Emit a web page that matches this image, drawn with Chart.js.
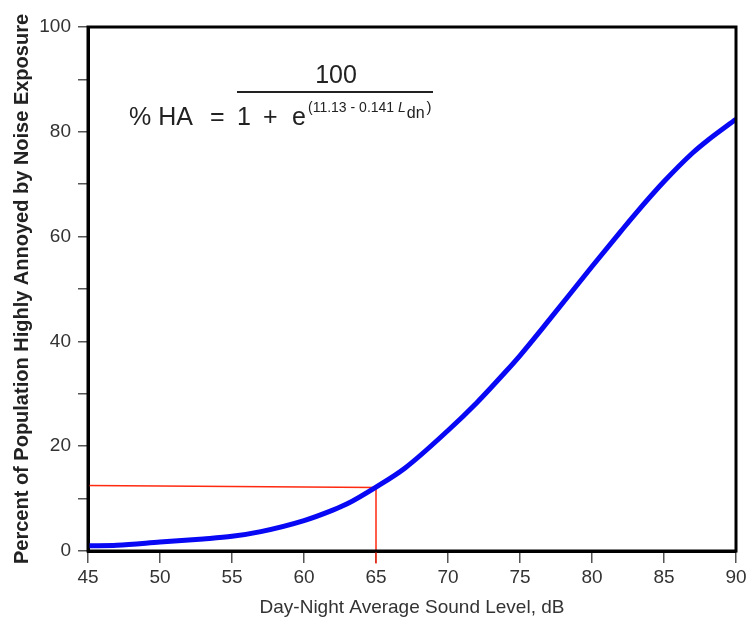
<!DOCTYPE html>
<html>
<head>
<meta charset="utf-8">
<script src="https://cdn.jsdelivr.net/npm/chart.js@4"></script>
<style>
  html, body { margin: 0; padding: 0; background: #fff; }
  #wrap { width: 754px; height: 627px; }
</style>
</head>
<body>
<div id="wrap"><canvas id="c" width="754" height="627"></canvas></div>
<script>
// Curve values
const ldn = [45, 47, 50, 53, 55, 57, 60, 62, 63, 65, 67, 70, 72, 74, 75, 77, 80, 82, 83, 85, 87, 88, 90];
const percentHA = [1.0, 1.1, 1.7, 2.3, 2.8, 3.7, 5.8, 7.8, 9.0, 12.2, 15.8, 23.0, 28.3, 34.2, 37.3, 44.0, 54.3, 61.0, 64.3, 70.5, 76.0, 78.3, 82.4];
// Red guide line (65 dB reading)
const guideX = [45, 65, 65];
const guideY = [12.5, 12.1, -2.4];
const xTicks = [45, 50, 55, 60, 65, 70, 75, 80, 85, 90];
const yLabels = [0, 20, 40, 60, 80, 100];

const curveData = ldn.map((x, i) => ({x: x, y: percentHA[i]}));
const guideData = guideX.map((x, i) => ({x: x, y: guideY[i]}));

const FAM = '"Liberation Sans", Arial, sans-serif';

const frame = {
  id: 'frame',
  afterDatasetsDraw(chart) {
    const a = chart.chartArea, ctx = chart.ctx;
    ctx.save();
    ctx.strokeStyle = '#000';
    ctx.lineWidth = 3;
    ctx.strokeRect(a.left, a.top, a.right - a.left, a.bottom - a.top);
    ctx.restore();
  }
};

const formula = {
  id: 'formula',
  afterDraw(chart) {
    const ctx = chart.ctx;
    ctx.save();
    ctx.fillStyle = '#222';
    ctx.textBaseline = 'alphabetic';
    ctx.font = '25px ' + FAM;
    ctx.textAlign = 'center';
    ctx.fillText('100', 336, 83);
    ctx.fillRect(237, 91, 196, 2);
    ctx.textAlign = 'left';
    ctx.fillText('% HA', 129, 125);
    ctx.fillText('=', 210, 125);
    ctx.fillText('1', 237, 125);
    ctx.fillText('+', 263, 125);
    ctx.fillText('e', 292, 125);
    let x = 308;
    ctx.font = '14px ' + FAM;
    const t1 = '(11.13 - 0.141 ';
    ctx.fillText(t1, x, 112);
    x += ctx.measureText(t1).width;
    ctx.font = 'italic 14px ' + FAM;
    ctx.fillText('L', x, 112);
    x += ctx.measureText('L').width + 1;
    ctx.font = '16px ' + FAM;
    ctx.fillText('dn', x, 118);
    x += ctx.measureText('dn').width + 2;
    ctx.font = '15px ' + FAM;
    ctx.fillText(')', x, 112);
    ctx.restore();
  }
};

new Chart(document.getElementById('c'), {
  type: 'line',
  data: {
    datasets: [
      {
        data: curveData,
        borderColor: '#0808f4',
        borderWidth: 5,
        pointRadius: 0,
        cubicInterpolationMode: 'monotone',
        fill: false
      },
      {
        data: guideData,
        borderColor: '#ff2a10',
        borderWidth: 1.5,
        pointRadius: 0,
        tension: 0,
        clip: false,
        fill: false
      }
    ]
  },
  options: {
    responsive: false,
    animation: false,
    events: [],
    layout: { padding: { top: 27, right: 18, bottom: 8, left: 0 } },
    plugins: { legend: { display: false }, tooltip: { enabled: false } },
    scales: {
      x: {
        type: 'linear',
        min: 45, max: 90,
        afterBuildTicks(scale) { scale.ticks = xTicks.map(v => ({value: v})); },
        afterFit(scale) { scale.height = 68; },
        grid: { drawOnChartArea: false, drawTicks: true, tickLength: 12, color: '#555', lineWidth: 1.5 },
        border: { display: true, color: '#000', width: 3 },
        ticks: { color: '#333', font: { size: 19, family: FAM }, padding: 3, maxRotation: 0 },
        title: {
          display: true,
          text: 'Day-Night Average Sound Level, dB',
          color: '#333',
          font: { size: 19, family: FAM },
          padding: { top: 0, bottom: 0 }
        }
      },
      y: {
        type: 'linear',
        min: 0, max: 100,
        ticks: {
          stepSize: 10,
          color: '#333',
          font: { size: 19, family: FAM },
          padding: 7,
          callback: (v) => yLabels.includes(v) ? String(v) : ''
        },
        afterFit(scale) { scale.width = 88; },
        grid: { drawOnChartArea: false, drawTicks: true, tickLength: 10, color: '#555', lineWidth: 1.5 },
        border: { display: true, color: '#000', width: 3 },
        title: {
          display: true,
          text: 'Percent of Population Highly Annoyed by Noise Exposure',
          color: '#222',
          font: { size: 20, weight: 'bold', family: FAM },
          padding: { top: 10, bottom: 0 }
        }
      }
    }
  },
  plugins: [frame, formula]
});
</script>
</body>
</html>
